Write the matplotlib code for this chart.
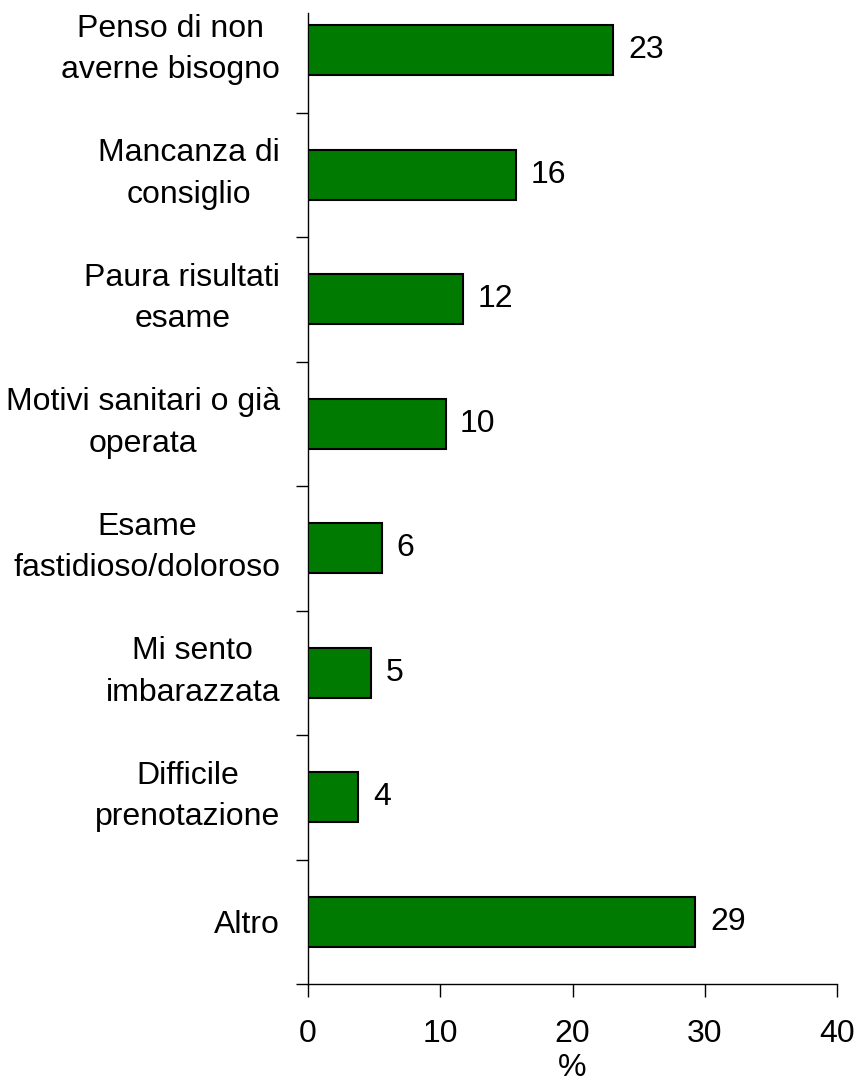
import matplotlib
matplotlib.use("Agg")
import matplotlib.pyplot as plt

categories = ["Penso di non\naverne bisogno", "Mancanza di\nconsiglio", "Paura risultati\nesame",
              "Motivi sanitari o già\noperata", "Esame\nfastidioso/doloroso", "Mi sento\nimbarazzata",
              "Difficile\nprenotazione", "Altro"]
values = [23.1, 15.7, 11.7, 10.4, 5.6, 4.8, 3.8, 29.3]
value_labels = ["23", "16", "12", "10", "6", "5", "4", "29"]
xticks = [0, 10, 20, 30, 40]

plt.rcParams['font.family'] = ['Liberation Sans', 'DejaVu Sans']
FS = 23

fig = plt.figure(figsize=(8.58, 10.83), dpi=100)
ax = fig.add_axes([308/858, 1 - 984/1083, (837-308)/858, (984-13)/1083])

n = len(categories)
pos = [n - 1 - i for i in range(n)]
ax.barh(pos, values, height=0.4, color='#007A00', edgecolor='black', linewidth=1.5, zorder=3)
for p, v, lab in zip(pos, values, value_labels):
    ax.text(v + 1.1, p, lab, va='center', ha='left', fontsize=FS)

ax.set_xlim(0, 40)
ax.set_ylim(-0.5, 7.3)
ax.set_xticks(xticks)
ax.set_xticklabels([str(t) for t in xticks], fontsize=FS)
# two-line category labels sit slightly above bar centres, as in the original
ax.set_yticks([p + (0.08 if '\n' in c else 0) for p, c in zip(pos, categories)])
ax.set_yticklabels(categories, fontsize=FS, linespacing=1.5, ha='right', multialignment='center')
ax.set_yticks([p + 0.5 for p in range(-1, n - 1)], minor=True)
ax.tick_params(axis='y', which='major', length=0, pad=20)
ax.tick_params(axis='y', which='minor', length=9, width=1, direction='out')
ax.tick_params(axis='x', length=9, width=1, direction='out', pad=16)
ax.spines['top'].set_visible(False)
ax.spines['right'].set_visible(False)
ax.spines['left'].set_linewidth(1)
ax.spines['bottom'].set_linewidth(1)
ax.set_xlabel('%', fontsize=FS, labelpad=3)

fig.savefig('out.png', dpi=100)
